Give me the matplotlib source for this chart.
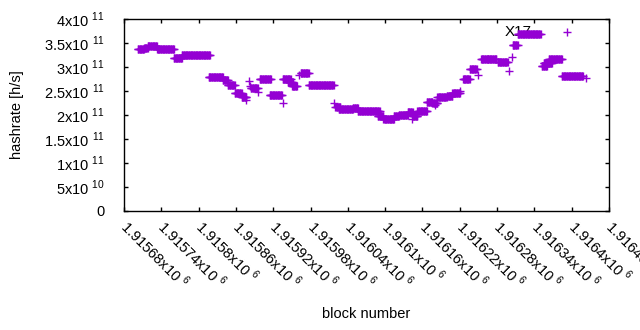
import numpy as np
import matplotlib
matplotlib.use("Agg")
import matplotlib.pyplot as plt

plt.rcParams['font.family'] = ['Liberation Sans', 'DejaVu Sans']
plt.rcParams['mathtext.fontset'] = 'custom'
plt.rcParams['mathtext.rm'] = 'Liberation Sans'

# runs of blocks sharing the same estimated hashrate (first block, last block, rate)
run_first = [1915702, 1915712, 1915718, 1915733, 1915760, 1915773, 1915816, 1915839,
             1915847, 1915858, 1915869, 1915877, 1915881, 1915882, 1915884, 1915896,
             1915898, 1915914, 1915935, 1915935, 1915943, 1915950, 1915962, 1915964,
             1915977, 1916017, 1916020, 1916025, 1916048, 1916056, 1916088, 1916097,
             1916114, 1916122, 1916136, 1916144, 1916152, 1916167, 1916176, 1916184,
             1916199, 1916208, 1916225, 1916236, 1916249, 1916254, 1916265, 1916281,
             1916299, 1916304, 1916305, 1916313, 1916352, 1916355, 1916363, 1916384,
             1916423, 1916392, 1916143, 1916180, 1916220]
run_last = [1915712, 1915718, 1915733, 1915760, 1915773, 1915818, 1915839, 1915847,
            1915858, 1915869, 1915877, 1915877, 1915881, 1915882, 1915895, 1915896,
            1915916, 1915934, 1915935, 1915948, 1915951, 1915958, 1915962, 1915977,
            1916017, 1916017, 1916028, 1916048, 1916056, 1916091, 1916097, 1916114,
            1916122, 1916136, 1916144, 1916152, 1916167, 1916176, 1916184, 1916199,
            1916208, 1916220, 1916236, 1916247, 1916249, 1916265, 1916279, 1916297,
            1916299, 1916304, 1916313, 1916350, 1916360, 1916368, 1916384, 1916418,
            1916423, 1916392, 1916143, 1916180, 1916220]
run_rate = [3.37, 3.40, 3.44, 3.37, 3.18, 3.24, 2.79, 2.73,
            2.62, 2.45, 2.37, 2.31, 2.70, 2.60, 2.56, 2.48,
            2.74, 2.42, 2.24, 2.76, 2.68, 2.60, 2.83, 2.87,
            2.62, 2.24, 2.17, 2.12, 2.15, 2.08, 1.98, 1.91,
            1.97, 2.01, 2.06, 1.98, 2.08, 2.27, 2.25, 2.37,
            2.40, 2.45, 2.74, 2.95, 2.83, 3.17, 3.16, 3.10,
            2.92, 3.20, 3.45, 3.68, 3.03, 3.09, 3.16, 2.82,
            2.77, 3.72, 1.91, 2.21, 2.49]

x_ticks = np.arange(1915680, 1916461, 60)
x_labels = ['1.91568', '1.91574', '1.9158', '1.91586', '1.91592', '1.91598', '1.91604',
            '1.9161', '1.91616', '1.91622', '1.91628', '1.91634', '1.9164', '1.91646']
y_ticks = [0, 0.5e11, 1e11, 1.5e11, 2e11, 2.5e11, 3e11, 3.5e11, 4e11]
y_labels = ['0', '5x10 $^{10}$', '1x10 $^{11}$', '1.5x10 $^{11}$', '2x10 $^{11}$',
            '2.5x10 $^{11}$', '3x10 $^{11}$', '3.5x10 $^{11}$', '4x10 $^{11}$']

blocks = []
rates = []
for first, last, r in zip(run_first, run_last, run_rate):
    b = np.arange(first, last + 1)
    blocks.append(b)
    rates.append(np.full(len(b), r * 1e11))
blocks = np.concatenate(blocks)
rates = np.concatenate(rates)

fig = plt.figure(figsize=(6.4, 3.3), dpi=100)
ax = fig.add_axes([124 / 640, 1 - 211 / 330, 485 / 640, 192 / 330])

ax.text(1916292, 3.73e11, 'X17', fontsize=11, ha='left', va='center', zorder=1)
ax.plot(blocks, rates, linestyle='none', marker='+', markersize=5.5, mew=1,
        color='#9400D3', zorder=2, clip_on=False)

ax.set_xlim(1915680, 1916460)
ax.set_ylim(0, 4e11)
ax.set_xticks(x_ticks)
ax.set_xticklabels([s + 'x10 $^{6}$' for s in x_labels], rotation=-45,
                   ha='left', va='center', rotation_mode='anchor', fontsize=10.5)
ax.set_yticks(y_ticks)
ax.set_yticklabels(y_labels, fontsize=10.5)
ax.tick_params(direction='in', top=True, right=True, length=3, width=1)
ax.tick_params(axis='x', pad=9)
ax.tick_params(axis='y', pad=14)
for s in ax.spines.values():
    s.set_linewidth(1)

ax.set_xlabel('block number', fontsize=10.5)
ax.xaxis.set_label_coords(0.5, -0.5)
ax.set_ylabel('hashrate [h/s]', fontsize=10.5)
ax.yaxis.set_label_coords(-0.206, 0.5)

fig.savefig('out.png', dpi=100)
